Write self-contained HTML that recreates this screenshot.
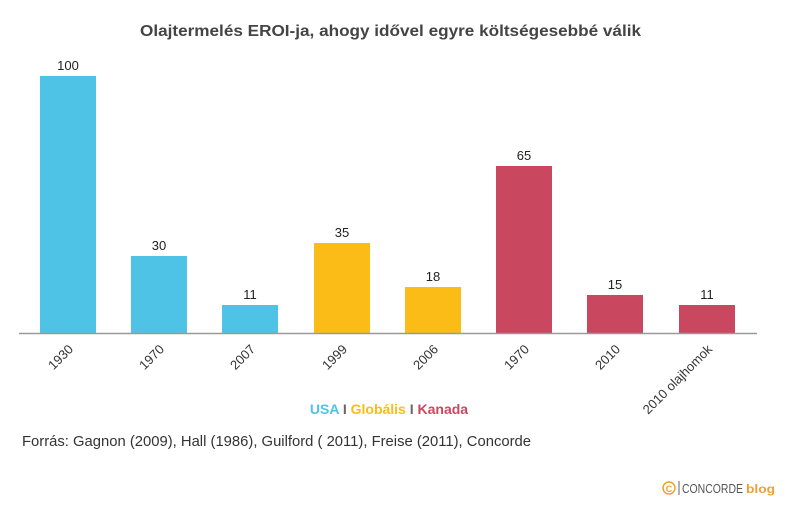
<!DOCTYPE html>
<html><head><meta charset="utf-8"><style>body{margin:0;background:#fff}svg{display:block}</style></head>
<body>
<svg width="793" height="507" xmlns="http://www.w3.org/2000/svg" font-family="Liberation Sans, Arial, sans-serif">
<text x="140" y="36" font-size="16" font-weight="bold" fill="#444" textLength="501" lengthAdjust="spacingAndGlyphs">Olajtermelés EROI-ja, ahogy idővel egyre költségesebbé válik</text>
<g font-size="13" fill="#222" text-anchor="middle">
<rect x="40" y="76" width="56" height="257" fill="#4fc3e6"/><text x="68" y="70">100</text>
<rect x="131" y="256" width="56" height="77" fill="#4fc3e6"/><text x="159" y="250">30</text>
<rect x="222" y="305" width="56" height="28" fill="#4fc3e6"/><text x="250" y="299">11</text>
<rect x="314" y="243" width="56" height="90" fill="#fbbc18"/><text x="342" y="237">35</text>
<rect x="405" y="287" width="56" height="46" fill="#fbbc18"/><text x="433" y="281">18</text>
<rect x="496" y="166" width="56" height="167" fill="#c9485f"/><text x="524" y="160">65</text>
<rect x="587" y="295" width="56" height="38" fill="#c9485f"/><text x="615" y="289">15</text>
<rect x="679" y="305" width="56" height="28" fill="#c9485f"/><text x="707" y="299">11</text>
</g>
<line x1="19" y1="333.5" x2="757" y2="333.5" stroke="#999" stroke-width="1.5"/>
<g font-size="13" fill="#333" text-anchor="end">
<text transform="translate(74,350) rotate(-45)">1930</text>
<text transform="translate(165,350) rotate(-45)">1970</text>
<text transform="translate(256,350) rotate(-45)">2007</text>
<text transform="translate(348,350) rotate(-45)">1999</text>
<text transform="translate(439,350) rotate(-45)">2006</text>
<text transform="translate(530,350) rotate(-45)">1970</text>
<text transform="translate(621,350) rotate(-45)">2010</text>
<text transform="translate(713,350) rotate(-45)">2010 olajhomok</text>
</g>
<text x="389" y="414" text-anchor="middle" font-size="14" font-weight="bold"><tspan fill="#4fc3e6">USA</tspan><tspan fill="#666"> I </tspan><tspan fill="#fbbc18">Globális</tspan><tspan fill="#666"> I </tspan><tspan fill="#c9485f">Kanada</tspan></text>
<text x="22" y="446" font-size="15" fill="#333" textLength="509" lengthAdjust="spacingAndGlyphs">Forrás: Gagnon (2009), Hall (1986), Guilford ( 2011), Freise (2011), Concorde</text>
<circle cx="669" cy="488" r="6" fill="none" stroke="#f0a030" stroke-width="1.5"/>
<text x="669" y="492" text-anchor="middle" font-size="9" font-weight="bold" fill="#f0a030">C</text>
<line x1="679" y1="481" x2="679" y2="495" stroke="#666" stroke-width="1"/>
<text x="682" y="493" font-size="13" fill="#555" textLength="61" lengthAdjust="spacingAndGlyphs">CONCORDE</text>
<text x="746" y="493" font-size="12" font-weight="bold" fill="#f0a030" textLength="29" lengthAdjust="spacingAndGlyphs">blog</text>
</svg>
</body></html>
